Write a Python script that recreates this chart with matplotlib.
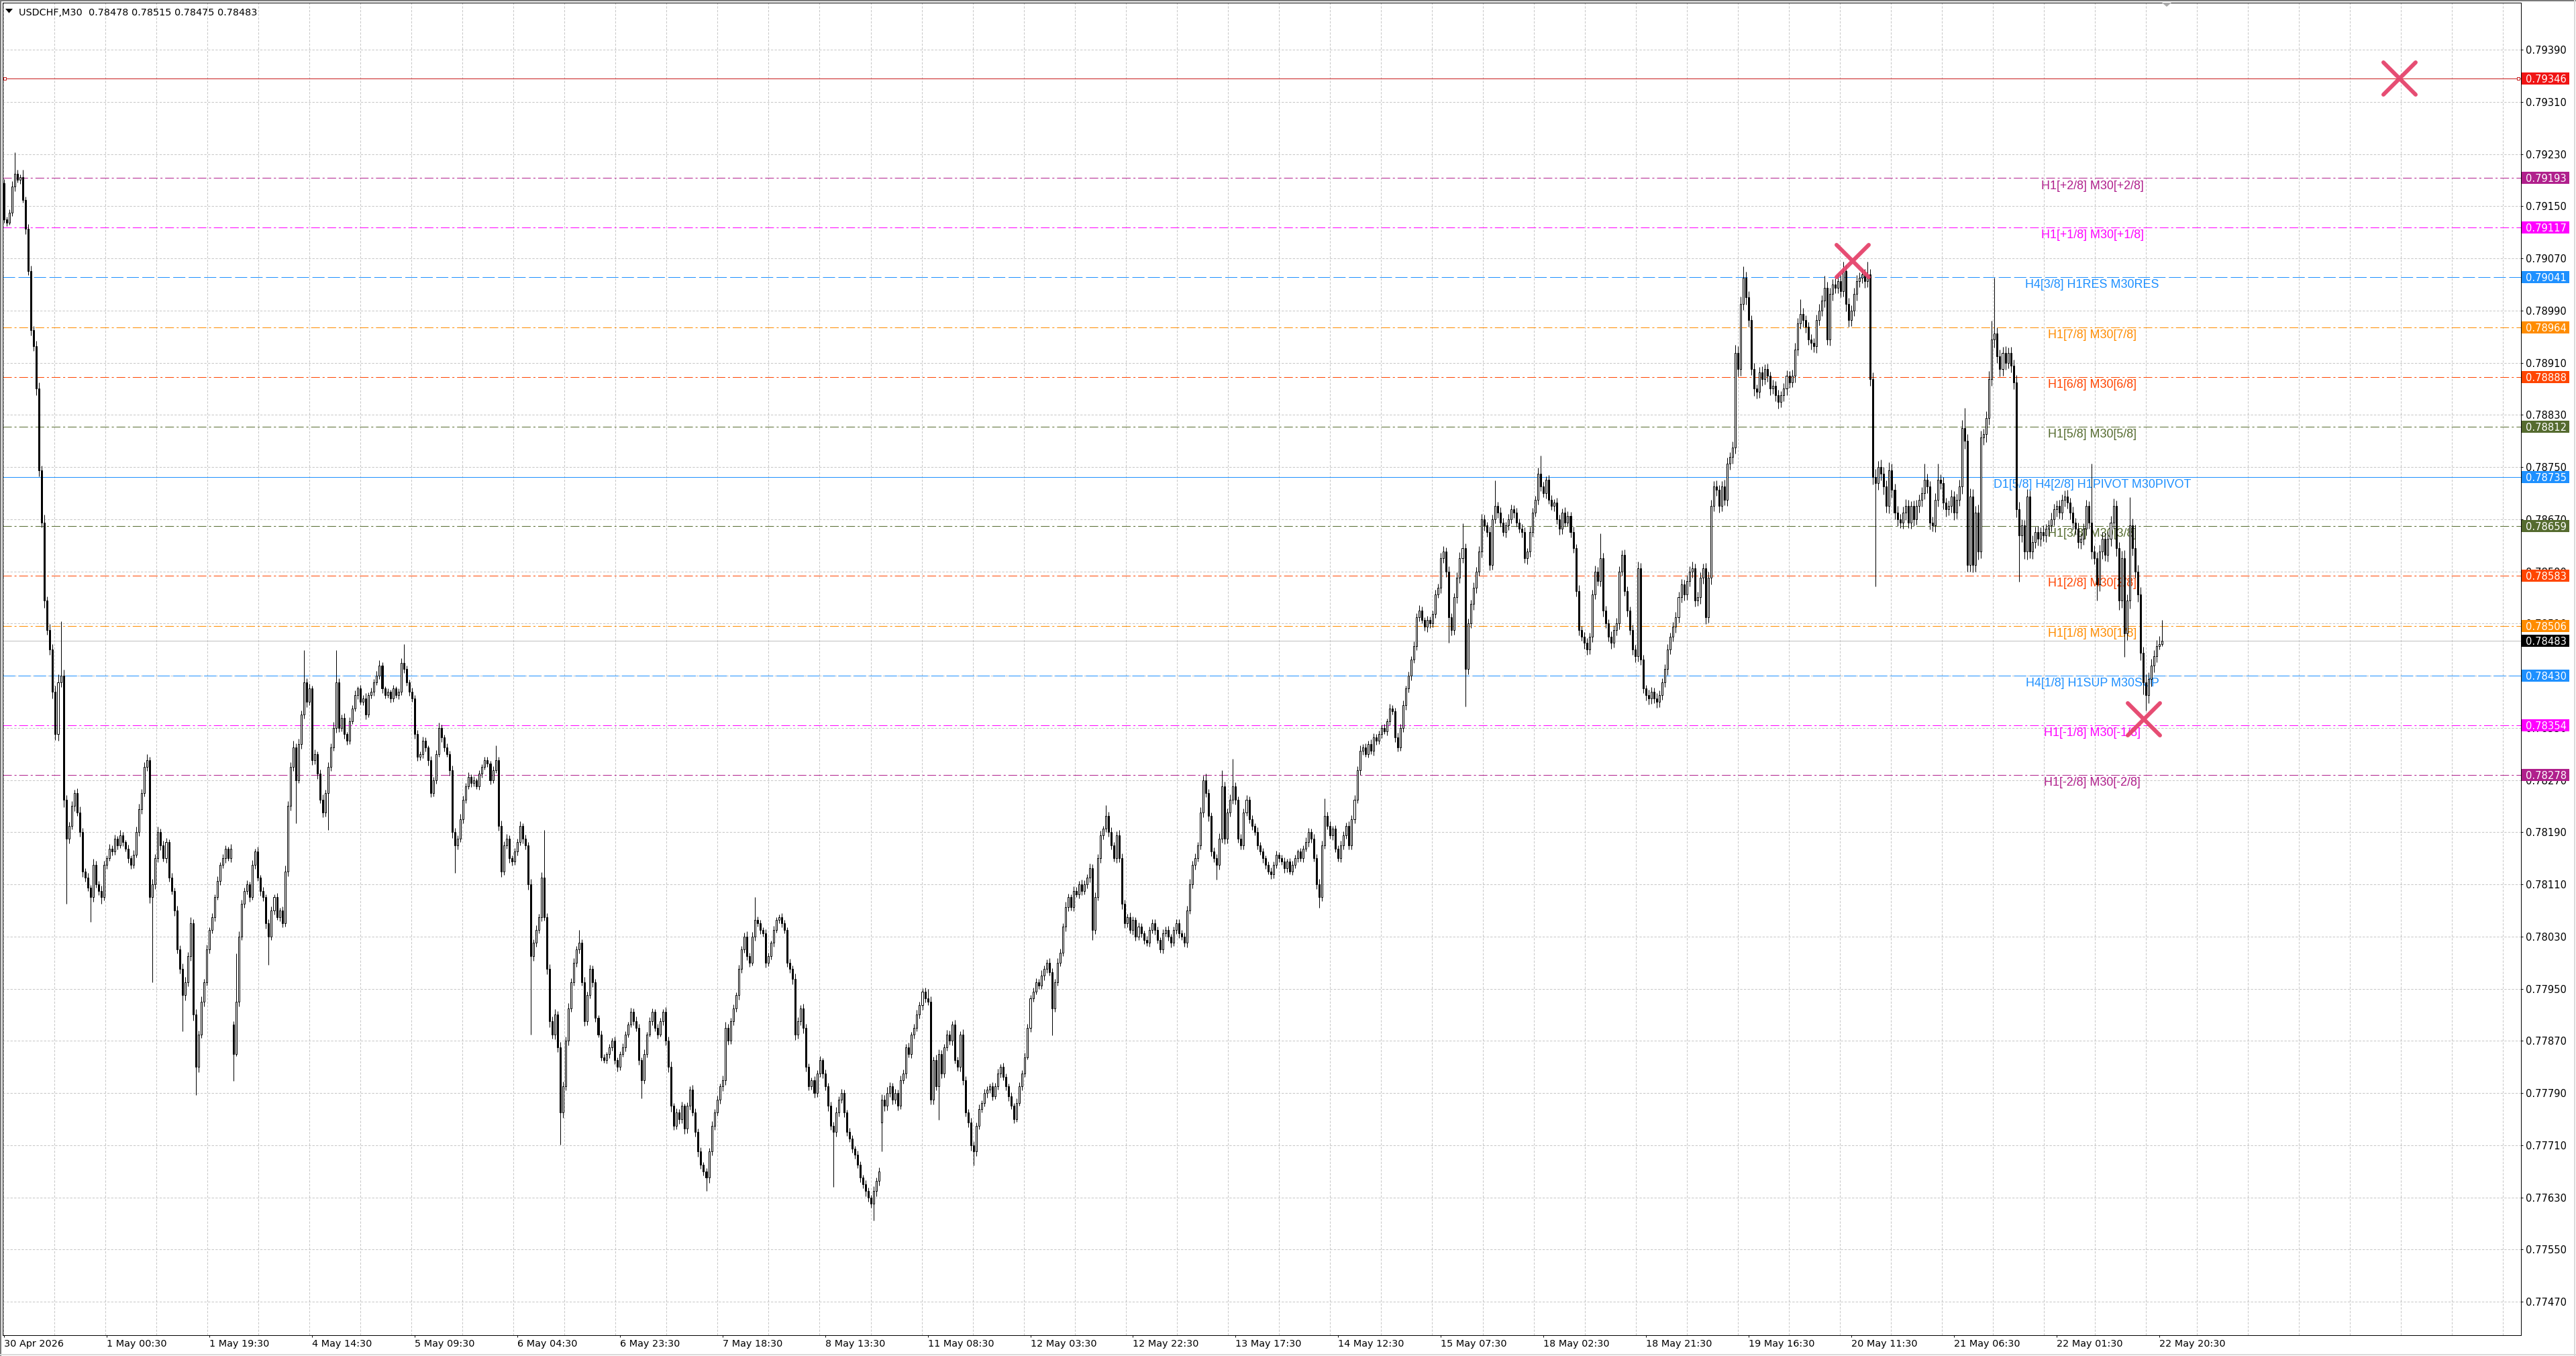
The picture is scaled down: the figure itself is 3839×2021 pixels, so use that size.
import numpy as np
import matplotlib
matplotlib.use("Agg")
import matplotlib.pyplot as plt
import matplotlib.transforms as mtransforms
from matplotlib.patches import Rectangle, Polygon
from matplotlib.lines import Line2D
from matplotlib.markers import MarkerStyle

plt.rcParams['lines.scale_dashes'] = False
plt.rcParams['font.family'] = ['DejaVu Sans']

# ======================= DATA =======================
title_text = "USDCHF,M30  0.78478 0.78515 0.78475 0.78483"
PRICE_BASE = 0.70000      # closes / wicks are stored in points above this
POINT = 0.00001

closes = [
    9130, 9125, 9140, 9180, 9200, 9190, 9195, 9160, 9115, 9050,
    8960, 8935, 8870, 8745, 8665, 8545, 8500, 8470, 8405, 8340,
    8420, 8430, 8240, 8180, 8200, 8230, 8250, 8220, 8190, 8130,
    8120, 8105, 8090, 8140, 8110, 8100, 8090, 8140, 8150, 8165,
    8160, 8180, 8170, 8185, 8175, 8165, 8150, 8140, 8155, 8190,
    8225, 8250, 8290, 8300, 8090, 8110, 8150, 8190, 8170, 8150,
    8175, 8120, 8100, 8070, 8010, 7980, 7940, 7960, 8000, 8050,
    7910, 7830, 7880, 7930, 7960, 8010, 8040, 8060, 8090, 8115,
    8140, 8150, 8165, 8150, 8165, 7850, 7930, 8030, 8080, 8100,
    8110, 8090, 8140, 8160, 8120, 8100, 8090, 8050, 8030, 8070,
    8090, 8060, 8070, 8050, 8130, 8230, 8290, 8320, 8270, 8325,
    8370, 8420, 8390, 8410, 8300, 8310, 8280, 8240, 8220, 8250,
    8290, 8320, 8350, 8420, 8350, 8365, 8340, 8330, 8360, 8380,
    8400, 8410, 8390, 8395, 8370, 8400, 8405, 8420, 8430, 8445,
    8410, 8400, 8405, 8395, 8410, 8400, 8405, 8450, 8440, 8420,
    8405, 8395, 8340, 8305, 8310, 8330, 8320, 8300, 8250, 8270,
    8310, 8350, 8335, 8320, 8310, 8285, 8190, 8170, 8180, 8210,
    8240, 8260, 8275, 8265, 8270, 8260, 8280, 8290, 8300, 8295,
    8270, 8285, 8300, 8200, 8130, 8170, 8180, 8150, 8145, 8160,
    8175, 8200, 8180, 8170, 8110, 8000, 8020, 8040, 8060, 8120,
    8060, 7980, 7900, 7880, 7910, 7860, 7760, 7800, 7870, 7920,
    7960, 7990, 8010, 8020, 7960, 7900, 7940, 7980, 7960, 7905,
    7880, 7845, 7840, 7850, 7860, 7870, 7840, 7830, 7850, 7860,
    7880, 7895, 7915, 7900, 7890, 7840, 7810, 7850, 7880, 7900,
    7915, 7890, 7880, 7900, 7915, 7870, 7830, 7770, 7740, 7760,
    7750, 7770, 7735, 7770, 7795, 7760, 7730, 7700, 7680, 7670,
    7660, 7700, 7740, 7760, 7780, 7800, 7810, 7890, 7870, 7900,
    7920, 7940, 7980, 8010, 8030, 8000, 7990, 8030, 8055, 8050,
    8040, 8035, 7990, 8000, 8020, 8040, 8055, 8060, 8050, 8040,
    7990, 7980, 7965, 7880, 7900, 7920, 7890, 7830, 7800, 7810,
    7790, 7820, 7840, 7820, 7800, 7770, 7740, 7730, 7760, 7780,
    7790, 7760, 7730, 7720, 7705, 7695, 7680, 7660, 7650, 7640,
    7630, 7620, 7640, 7655, 7670, 7780, 7770, 7790, 7800, 7780,
    7790, 7770, 7810, 7820, 7860, 7850, 7880, 7890, 7910, 7925,
    7945, 7935, 7930, 7780, 7840, 7800, 7850, 7820, 7860, 7880,
    7870, 7895, 7840, 7830, 7880, 7810, 7760, 7745, 7710, 7700,
    7740, 7765, 7775, 7790, 7795, 7800, 7785, 7800, 7820, 7830,
    7815, 7800, 7785, 7770, 7750, 7775, 7800, 7820, 7845, 7890,
    7935, 7945, 7960, 7955, 7970, 7980, 7990, 7975, 7920, 7960,
    7990, 8005, 8045, 8075, 8090, 8075, 8100, 8095, 8110, 8100,
    8110, 8120, 8135, 8040, 8090, 8150, 8185, 8195, 8215, 8190,
    8170, 8150, 8185, 8150, 8080, 8050, 8060, 8040, 8055, 8030,
    8045, 8035, 8025, 8020, 8040, 8050, 8040, 8025, 8010, 8035,
    8040, 8030, 8020, 8040, 8050, 8035, 8030, 8020, 8070, 8110,
    8140, 8150, 8170, 8220, 8270, 8250, 8215, 8160, 8150, 8140,
    8180, 8260, 8180, 8220, 8240, 8260, 8240, 8180, 8170, 8220,
    8240, 8210, 8200, 8190, 8170, 8160, 8150, 8140, 8130, 8125,
    8140, 8155, 8150, 8145, 8135, 8145, 8130, 8140, 8150, 8160,
    8150, 8165, 8175, 8190, 8180, 8150, 8110, 8090, 8170, 8215,
    8200, 8185, 8195, 8165, 8150, 8170, 8185, 8200, 8170, 8210,
    8240, 8285, 8315, 8320, 8310, 8325, 8315, 8335, 8330, 8340,
    8350, 8345, 8360, 8380, 8375, 8335, 8320, 8350, 8385, 8410,
    8430, 8455, 8475, 8520, 8530, 8515, 8505, 8515, 8510, 8525,
    8555, 8565, 8610, 8620, 8590, 8520, 8500, 8550, 8580, 8610,
    8625, 8440, 8510, 8540, 8565, 8590, 8620, 8670, 8660, 8650,
    8600, 8670, 8690, 8680, 8665, 8650, 8660, 8670, 8685, 8680,
    8665, 8655, 8650, 8610, 8620, 8650, 8680, 8700, 8740, 8720,
    8710, 8730, 8700, 8690, 8695, 8670, 8655, 8680, 8665, 8675,
    8650, 8625, 8560, 8500, 8490, 8480, 8470, 8490, 8555, 8590,
    8575, 8610, 8530, 8510, 8490, 8480, 8500, 8510, 8590, 8615,
    8560, 8530, 8500, 8470, 8460, 8595, 8455, 8410, 8400, 8395,
    8405, 8395, 8390, 8400, 8420, 8440, 8470, 8490, 8505, 8520,
    8550, 8570, 8555, 8575, 8590, 8595, 8545, 8550, 8580, 8595,
    8520, 8580, 8690, 8720, 8715, 8690, 8720, 8700, 8755, 8765,
    8780, 8925, 8900, 9000, 9040, 9010, 8975, 8900, 8870, 8865,
    8895, 8885, 8900, 8890, 8870, 8875, 8860, 8850, 8860, 8870,
    8890, 8880, 8890, 8930, 8970, 8985, 8975, 8965, 8945, 8940,
    8935, 8975, 8990, 9005, 9025, 8945, 9015, 9030, 9025, 9035,
    9020, 9050, 9000, 8975, 8990, 9015, 9035, 9040, 9045, 9035,
    9045, 8885, 8735, 8725, 8750, 8740, 8720, 8690, 8745, 8715,
    8680, 8670, 8665, 8680, 8690, 8665, 8690, 8670, 8690, 8700,
    8710, 8730, 8720, 8665, 8660, 8700, 8730, 8725, 8695, 8685,
    8690, 8705, 8680, 8700, 8720, 8810, 8790, 8600, 8705, 8600,
    8680, 8620, 8795, 8800, 8825, 8885, 8945, 8955, 8920, 8900,
    8925, 8910, 8925, 8905, 8880, 8685, 8645, 8660, 8620, 8705,
    8620, 8635, 8650, 8640, 8650, 8645, 8655, 8660, 8670, 8685,
    8690, 8680, 8700, 8705, 8695, 8680, 8665, 8655, 8635, 8640,
    8655, 8690, 8665, 8620, 8610, 8570, 8620, 8640, 8615, 8640,
    8665, 8690, 8625, 8545, 8610, 8495, 8545, 8660, 8625, 8590,
    8555, 8465, 8420, 8400, 8425, 8445, 8460, 8475, 8478, 8483,
]

upper_wick = [
    6, 4, 5, 8, 33, 6, 4, 11, 5, 7,
    9, 6, 8, 10, 7, 12, 6, 9, 8, 10,
    12, 83, 9, 7, 6, 8, 5, 7, 9, 6,
    5, 7, 4, 9, 6, 5, 8, 6, 4, 7,
    5, 6, 4, 8, 5, 3, 6, 4, 7, 9,
    8, 6, 7, 10, 5, 8, 6, 9, 5, 7,
    6, 4, 8, 5, 7, 6, 9, 8, 6, 10,
    7, 9, 6, 8, 5, 7, 4, 6, 5, 7,
    4, 6, 5, 3, 7, 5, 74, 8, 6, 5,
    6, 4, 7, 5, 8, 4, 6, 5, 7, 6,
    5, 7, 4, 6, 9, 8, 7, 10, 6, 8,
    7, 49, 6, 8, 5, 7, 4, 6, 8, 5,
    7, 6, 9, 49, 6, 5, 7, 4, 6, 5,
    7, 4, 6, 5, 8, 4, 6, 5, 7, 9,
    6, 4, 5, 3, 6, 4, 5, 7, 28, 5,
    4, 6, 5, 7, 4, 6, 5, 3, 7, 5,
    6, 8, 5, 4, 6, 5, 7, 6, 5, 8,
    6, 5, 7, 4, 6, 3, 5, 4, 6, 5,
    4, 6, 23, 5, 8, 6, 7, 5, 4, 6,
    5, 7, 4, 6, 5, 8, 6, 7, 5, 9,
    73, 6, 8, 7, 9, 6, 8, 7, 6, 8,
    6, 7, 5, 20, 6, 8, 5, 7, 6, 5,
    4, 6, 5, 3, 5, 4, 6, 5, 4, 6,
    5, 4, 6, 5, 7, 6, 5, 7, 4, 6,
    5, 4, 6, 5, 4, 7, 6, 8, 5, 6,
    5, 7, 4, 6, 5, 7, 6, 5, 7, 4,
    5, 6, 7, 5, 6, 4, 7, 9, 6, 5,
    6, 4, 7, 5, 6, 8, 5, 7, 35, 6,
    5, 4, 6, 5, 4, 6, 5, 4, 6, 5,
    4, 6, 5, 8, 6, 5, 7, 6, 5, 4,
    6, 5, 7, 4, 6, 5, 7, 6, 8, 5,
    6, 5, 4, 6, 5, 4, 6, 5, 4, 6,
    5, 4, 7, 5, 6, 8, 7, 9, 6, 5,
    6, 5, 7, 6, 5, 7, 4, 6, 8, 5,
    6, 7, 15, 8, 6, 9, 7, 6, 5, 7,
    6, 5, 7, 6, 5, 8, 6, 5, 7, 6,
    5, 7, 4, 6, 5, 4, 6, 5, 7, 4,
    6, 5, 4, 6, 5, 7, 6, 5, 7, 6,
    5, 7, 6, 5, 8, 6, 5, 7, 6, 5,
    7, 6, 5, 8, 6, 5, 7, 6, 5, 7,
    6, 5, 7, 6, 8, 6, 7, 5, 16, 6,
    7, 5, 6, 8, 7, 6, 5, 7, 6, 5,
    6, 5, 4, 6, 5, 7, 6, 5, 4, 6,
    5, 6, 4, 5, 7, 6, 5, 6, 7, 8,
    6, 7, 5, 8, 7, 10, 6, 5, 7, 6,
    8, 25, 7, 6, 8, 42, 6, 5, 7, 6,
    7, 5, 6, 4, 7, 5, 6, 4, 5, 6,
    5, 6, 4, 5, 6, 4, 5, 6, 5, 4,
    6, 5, 7, 6, 5, 7, 6, 8, 7, 27,
    6, 7, 5, 6, 5, 7, 6, 5, 7, 6,
    7, 6, 8, 5, 6, 5, 7, 6, 5, 6,
    5, 6, 4, 7, 5, 6, 8, 6, 7, 5,
    6, 5, 7, 6, 8, 6, 5, 7, 6, 5,
    7, 6, 8, 9, 7, 8, 6, 7, 8, 9,
    39, 8, 7, 6, 8, 7, 9, 8, 7, 6,
    8, 7, 39, 6, 8, 7, 6, 8, 7, 6,
    7, 6, 8, 7, 6, 8, 7, 6, 9, 27,
    7, 6, 8, 7, 6, 8, 7, 6, 8, 7,
    6, 8, 7, 9, 6, 7, 8, 6, 7, 9,
    7, 38, 8, 7, 6, 8, 7, 9, 8, 7,
    8, 7, 6, 8, 7, 10, 8, 7, 6, 8,
    7, 6, 8, 7, 6, 7, 8, 6, 7, 8,
    9, 8, 7, 9, 8, 10, 7, 9, 8, 7,
    8, 9, 10, 8, 9, 7, 8, 10, 9, 8,
    9, 12, 10, 11, 18, 9, 10, 8, 9, 7,
    8, 9, 7, 8, 6, 9, 7, 8, 6, 9,
    8, 7, 9, 10, 8, 22, 9, 8, 7, 9,
    8, 9, 10, 8, 18, 9, 10, 8, 9, 10,
    9, 15, 10, 9, 8, 10, 9, 8, 10, 9,
    20, 9, 10, 12, 9, 11, 10, 9, 12, 10,
    9, 10, 8, 9, 11, 10, 8, 9, 10, 8,
    9, 25, 10, 8, 9, 10, 25, 9, 10, 8,
    9, 10, 8, 9, 10, 12, 31, 10, 12, 11,
    10, 12, 11, 9, 10, 12, 29, 85, 9, 10,
    9, 10, 8, 9, 10, 11, 12, 10, 9, 11,
    9, 10, 8, 9, 7, 10, 8, 9, 10, 8,
    9, 10, 8, 9, 10, 8, 9, 7, 10, 8,
    9, 10, 8, 90, 10, 9, 11, 10, 9, 11,
    10, 12, 9, 10, 11, 12, 10, 44, 11, 36,
    10, 11, 9, 12, 10, 11, 9, 10, 13, 32,
]

lower_wick = [
    5, 6, 4, 5, 7, 4, 6, 5, 8, 6,
    8, 7, 10, 9, 8, 11, 7, 8, 10, 9,
    10, 8, 12, 100, 7, 6, 8, 5, 7, 9,
    6, 5, 38, 7, 5, 6, 10, 5, 6, 4,
    6, 5, 7, 4, 6, 5, 7, 6, 5, 4,
    6, 7, 5, 6, 9, 130, 7, 6, 8, 5,
    7, 6, 5, 8, 6, 7, 55, 8, 6, 7,
    9, 43, 8, 6, 7, 5, 6, 5, 7, 4,
    6, 5, 7, 4, 6, 41, 3, 7, 5, 6,
    5, 7, 4, 6, 5, 7, 6, 8, 43, 5,
    6, 5, 7, 6, 5, 8, 7, 6, 66, 5,
    7, 6, 8, 5, 7, 6, 8, 5, 7, 6,
    57, 6, 5, 7, 6, 5, 7, 6, 5, 4,
    5, 6, 4, 5, 7, 4, 5, 6, 4, 5,
    7, 5, 4, 6, 5, 4, 6, 5, 6, 5,
    6, 5, 7, 6, 5, 7, 6, 8, 6, 5,
    6, 5, 7, 6, 5, 8, 9, 42, 6, 5,
    6, 5, 4, 6, 5, 4, 5, 6, 4, 5,
    7, 5, 4, 8, 9, 6, 5, 7, 6, 5,
    6, 5, 7, 6, 8, 120, 7, 6, 5, 7,
    6, 8, 9, 7, 8, 7, 49, 8, 6, 7,
    6, 5, 7, 6, 5, 7, 6, 5, 7, 6,
    5, 6, 4, 5, 6, 5, 6, 7, 5, 4,
    6, 5, 4, 6, 5, 7, 28, 6, 5, 4,
    6, 5, 7, 4, 6, 7, 8, 9, 7, 6,
    7, 6, 8, 7, 6, 5, 7, 8, 6, 7,
    20, 8, 6, 7, 5, 6, 7, 8, 6, 5,
    6, 5, 7, 6, 5, 6, 7, 5, 6, 5,
    6, 5, 8, 6, 5, 6, 4, 5, 6, 5,
    7, 6, 8, 9, 7, 6, 8, 7, 6, 5,
    7, 6, 5, 7, 6, 8, 7, 84, 7, 6,
    5, 7, 6, 5, 7, 6, 5, 7, 6, 8,
    7, 6, 26, 8, 7, 45, 8, 7, 6, 7,
    6, 7, 5, 6, 7, 5, 6, 7, 5, 6,
    7, 6, 5, 8, 7, 6, 51, 7, 6, 5,
    6, 7, 5, 6, 7, 8, 6, 7, 8, 21,
    7, 6, 5, 6, 7, 5, 6, 4, 5, 6,
    5, 6, 7, 5, 6, 4, 5, 6, 5, 4,
    6, 5, 4, 6, 5, 7, 6, 5, 41, 6,
    5, 6, 5, 7, 6, 5, 6, 5, 7, 6,
    5, 6, 7, 15, 6, 5, 7, 6, 5, 7,
    6, 5, 7, 6, 8, 7, 6, 5, 7, 6,
    5, 6, 7, 5, 6, 5, 7, 6, 5, 6,
    5, 6, 7, 5, 6, 7, 5, 6, 7, 5,
    6, 7, 5, 6, 7, 6, 8, 7, 6, 23,
    7, 6, 8, 7, 6, 7, 8, 6, 7, 6,
    5, 6, 7, 5, 6, 5, 7, 6, 5, 7,
    6, 5, 6, 5, 7, 6, 5, 6, 5, 6,
    5, 6, 5, 7, 6, 5, 7, 16, 6, 5,
    6, 5, 7, 6, 5, 6, 7, 5, 6, 7,
    6, 5, 7, 6, 5, 6, 5, 7, 6, 5,
    6, 5, 7, 6, 5, 7, 6, 5, 6, 7,
    6, 7, 5, 6, 7, 5, 6, 8, 7, 6,
    7, 6, 8, 7, 9, 40, 8, 7, 9, 8,
    7, 57, 8, 7, 9, 8, 7, 9, 8, 7,
    8, 7, 6, 8, 7, 6, 8, 7, 6, 8,
    7, 6, 8, 7, 9, 8, 7, 6, 8, 7,
    6, 8, 7, 6, 8, 7, 9, 8, 7, 6,
    8, 7, 9, 8, 7, 9, 8, 7, 9, 8,
    7, 8, 9, 7, 8, 9, 7, 8, 9, 7,
    8, 9, 7, 8, 9, 8, 9, 7, 8, 9,
    8, 7, 9, 8, 7, 8, 9, 7, 8, 9,
    9, 8, 10, 9, 8, 10, 9, 8, 10, 9,
    11, 9, 10, 8, 9, 10, 8, 9, 10, 9,
    10, 9, 11, 10, 9, 11, 10, 9, 11, 10,
    9, 10, 8, 9, 10, 8, 9, 10, 8, 9,
    10, 9, 8, 10, 9, 8, 10, 9, 8, 10,
    9, 10, 8, 9, 10, 8, 9, 10, 8, 9,
    10, 9, 11, 10, 9, 8, 10, 9, 8, 10,
    9, 10, 12, 158, 10, 11, 12, 10, 11, 12,
    10, 11, 9, 10, 11, 9, 10, 11, 9, 10,
    11, 9, 10, 11, 9, 10, 11, 9, 10, 11,
    9, 10, 11, 9, 10, 11, 12, 10, 11, 12,
    11, 12, 10, 11, 12, 10, 11, 12, 10, 11,
    10, 11, 9, 10, 11, 12, 71, 10, 11, 12,
    10, 11, 9, 10, 11, 9, 10, 11, 9, 10,
    11, 9, 10, 11, 9, 10, 11, 9, 10, 11,
    9, 10, 10, 11, 9, 25, 10, 11, 9, 10,
    11, 10, 12, 14, 11, 36, 10, 12, 11, 10,
    12, 11, 19, 24, 12, 11, 10, 9, 5, 3,
]

# bars whose open is not the previous close (first bar, weekend gaps)
gap_opens = {0: 9185, 85: 7895, 325: 7745}

time_labels = ["30 Apr 2026", "1 May 00:30", "1 May 19:30", "4 May 14:30", "5 May 09:30",
               "6 May 04:30", "6 May 23:30", "7 May 18:30", "8 May 13:30", "11 May 08:30",
               "12 May 03:30", "12 May 22:30", "13 May 17:30", "14 May 12:30", "15 May 07:30",
               "18 May 02:30", "18 May 21:30", "19 May 16:30", "20 May 11:30", "21 May 06:30",
               "22 May 01:30", "22 May 20:30"]
time_label_bars = [0, 38, 76, 114, 152, 190, 228, 266, 304, 342, 380, 418, 456, 494,
                   532, 570, 608, 646, 684, 722, 760, 798]

price_ticks = [0.77470, 0.77550, 0.77630, 0.77710, 0.77790, 0.77870, 0.77950, 0.78030,
               0.78110, 0.78190, 0.78270, 0.78350, 0.78430, 0.78510, 0.78590, 0.78670,
               0.78750, 0.78830, 0.78910, 0.78990, 0.79070, 0.79150, 0.79230, 0.79310,
               0.79390]

level_prices = [0.79193, 0.79117, 0.79041, 0.78964, 0.78888, 0.78812, 0.78735,
                0.78659, 0.78583, 0.78506, 0.78430, 0.78354, 0.78278]
level_names = ["H1[+2/8] M30[+2/8]", "H1[+1/8] M30[+1/8]", "H4[3/8] H1RES M30RES",
               "H1[7/8] M30[7/8]", "H1[6/8] M30[6/8]", "H1[5/8] M30[5/8]",
               "D1[5/8] H4[2/8] H1PIVOT M30PIVOT", "H1[3/8] M30[3/8]", "H1[2/8] M30[2/8]",
               "H1[1/8] M30[1/8]", "H4[1/8] H1SUP M30SUP", "H1[-1/8] M30[-1/8]",
               "H1[-2/8] M30[-2/8]"]
level_colors = ["#B0208C", "#FF00FF", "#1E90FF", "#FF8C00", "#FF4500", "#556B2F",
                "#1E90FF", "#556B2F", "#FF4500", "#FF8C00", "#1E90FF", "#FF00FF",
                "#B0208C"]
level_kinds = ["dashdot", "dashdot", "dashed", "dashdot", "dashdot", "dashdot", "solid",
               "dashdot", "dashdot", "dashdot", "dashed", "dashdot", "dashdot"]

alert_price = 0.79346
bid_price = 0.78483
cross_bars = [887.0, 684.5, 792.3]
cross_prices = [0.79346, 0.79066, 0.78363]

# ======================= LAYOUT =======================
W, H, DPI = 3839, 2021, 100
PX = 72.0 / DPI                       # points per pixel
L_, R_, T_, B_ = 4, 3757, 4, 1990     # chart frame in pixels
BAR_PX = 4.025                        # pixels per bar
BAR0_PX = 6                           # x pixel of bar 0
PPU = (1940 - 74) / (0.79390 - 0.77470)   # pixels per price unit
LABEL_BAR = (3118 - BAR0_PX) / BAR_PX

fig = plt.figure(figsize=(W / DPI, H / DPI), dpi=DPI, facecolor="white")
ax = fig.add_axes([L_ / W, 1 - B_ / H, (R_ - L_) / W, (B_ - T_) / H])
ax.set_facecolor("white")
x0 = -(BAR0_PX - L_) / BAR_PX
ax.set_xlim(x0, x0 + (R_ - L_) / BAR_PX)
ax.set_ylim(0.77470 - (B_ - 1940) / PPU, 0.79390 + (74 - T_) / PPU)

n = len(closes)
assert n == 800 and len(upper_wick) == n and len(lower_wick) == n
opens_pts = [gap_opens.get(i, closes[i - 1] if i > 0 else closes[0]) for i in range(n)]
o = PRICE_BASE + np.array(opens_pts) * POINT
c = PRICE_BASE + np.array(closes) * POINT
hi = np.maximum(o, c) + np.array(upper_wick) * POINT
lo = np.minimum(o, c) - np.array(lower_wick) * POINT
idx = np.arange(n)

# grid
GRID_C = "#C6C6C6"
grid_bars = [((L_ + 1) + 76.03 * k - BAR0_PX) / BAR_PX for k in range(0, 50)]
ax.set_xticks(grid_bars, minor=True)
ax.set_xticks(time_label_bars)
ax.set_xticklabels(time_labels)
for t in ax.get_xticklabels():
    t.set_ha("left")
ax.set_yticks(price_ticks)
ax.set_yticklabels([f"{v:.5f}" for v in price_ticks])
ax.yaxis.tick_right()
ax.tick_params(axis="x", which="major", direction="out", length=3 * PX, width=PX,
               pad=3 * PX, labelsize=10.4, colors="black")
ax.tick_params(axis="x", which="minor", length=0)
ax.tick_params(axis="y", which="major", direction="out", length=3 * PX, width=PX,
               pad=4 * PX, labelsize=10.6, colors="black")
ax.set_axisbelow(True)
ax.grid(True, axis="y", which="major", color=GRID_C, linewidth=PX, linestyle=(0, (2.4, 1.6)))
ax.grid(True, axis="x", which="minor", color=GRID_C, linewidth=PX, linestyle=(0, (2.4, 1.6)))
for s in ax.spines.values():
    s.set_linewidth(PX)
    s.set_color("black")

# level lines + labels
styles = {"dashdot": (0, (9.4, 2.9, 2.2, 2.9)), "dashed": (0, (13.0, 3.6)), "solid": "-"}
for p, name, col, kind in zip(level_prices, level_names, level_colors, level_kinds):
    ax.axhline(p, color=col, linewidth=PX, linestyle=styles[kind], zorder=2)
    ax.annotate(name, xy=(LABEL_BAR, p), xytext=(0, -2.2), textcoords="offset points",
                ha="center", va="top", color=col, fontsize=12.9,
                family=["Liberation Sans", "DejaVu Sans"], zorder=3)

ax.axhline(bid_price, color="#C0C0C0", linewidth=PX, zorder=1.9)
ax.axhline(alert_price, color="#C81E1E", linewidth=PX, zorder=2)
ax.plot([(7 - BAR0_PX) / BAR_PX, (3753 - BAR0_PX) / BAR_PX], [alert_price, alert_price],
        ls="none", marker="s", ms=4 * PX, mfc="white", mec="#C81E1E", mew=PX, zorder=2.5,
        clip_on=False)

# candles
ax.vlines(idx, lo, hi, colors="black", linewidth=PX, zorder=4)
body_bot = np.minimum(o, c)
body_h = np.maximum(np.abs(c - o), 0.5 * POINT)
up = c >= o
ax.bar(idx[up], body_h[up], bottom=body_bot[up], width=0.5, facecolor="white",
       edgecolor="black", linewidth=PX, zorder=5)
ax.bar(idx[~up], body_h[~up], bottom=body_bot[~up], width=0.5, facecolor="black",
       edgecolor="black", linewidth=PX, zorder=5)

# crosses
xm = MarkerStyle("x", capstyle="round")
ax.plot(cross_bars, cross_prices, ls="none", marker=xm, ms=34, mew=4.3, color="#E5436B",
        alpha=0.95, zorder=8, clip_on=False)

# price boxes on the right axis
bt = mtransforms.blended_transform_factory(fig.transFigure, ax.transData)
box_h = 18 / PPU


def price_box(p, fc, tc="white"):
    ax.add_patch(Rectangle((3758 / W, p - box_h / 2), 71 / W, box_h, transform=bt,
                           facecolor=fc, edgecolor="none", clip_on=False, zorder=10))
    ax.text(3764 / W, p, f"{p:.5f}", transform=bt, color=tc, fontsize=10.6,
            va="center_baseline", ha="left", clip_on=False, zorder=11)


for p, col in zip(level_prices, level_colors):
    price_box(p, col)
price_box(alert_price, "#F01414")
price_box(bid_price, "black")

# title
fig.text(28 / W, 1 - 23 / H, title_text, fontsize=10.4, va="baseline", ha="left",
         color="black", zorder=20)
fig.patches.append(Polygon([[8 / W, 1 - 13 / H], [19 / W, 1 - 13 / H], [13.5 / W, 1 - 19.5 / H]],
                           closed=True, transform=fig.transFigure, facecolor="black",
                           edgecolor="none", zorder=20))
# chart-shift marker at top
fig.patches.append(Polygon([[3222 / W, 1 - 4 / H], [3236 / W, 1 - 4 / H], [3229 / W, 1 - 10 / H]],
                           closed=True, transform=fig.transFigure, facecolor="#A8A8A8",
                           edgecolor="none", zorder=20))

# outer window frame
fig.add_artist(Line2D([0, 1], [1 - 1 / H, 1 - 1 / H], transform=fig.transFigure,
                      color="#7A7A7A", linewidth=2 * PX))
fig.add_artist(Line2D([1 / W, 1 / W], [0, 1], transform=fig.transFigure,
                      color="#7A7A7A", linewidth=2 * PX))
fig.add_artist(Line2D([1 - 2 / W, 1 - 2 / W], [0, 1], transform=fig.transFigure,
                      color="#DADADA", linewidth=2 * PX))
fig.add_artist(Line2D([0, 1], [2.5 / H, 2.5 / H], transform=fig.transFigure,
                      color="#DADADA", linewidth=2 * PX))

fig.savefig("out.png", dpi=DPI, facecolor="white")
